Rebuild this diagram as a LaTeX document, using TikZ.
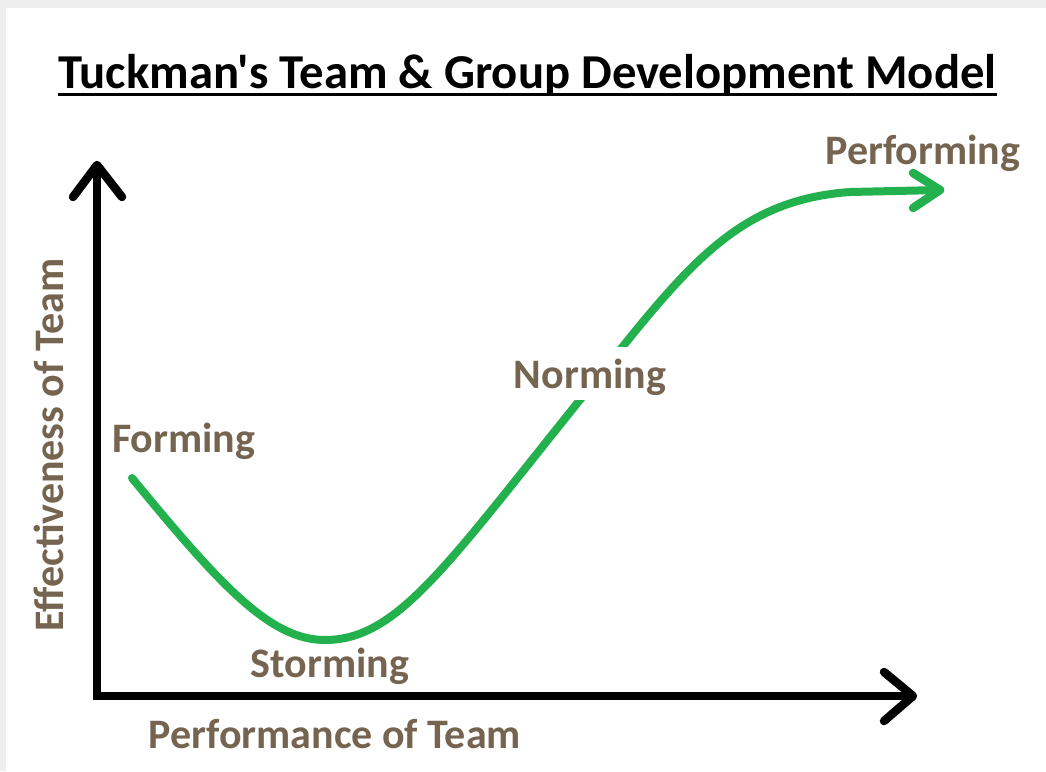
\documentclass[tikz,border=0pt]{standalone}
\usepackage{fontspec}
\setmainfont{Carlito}
\newfontfamily\plaincarlito{Carlito}
\definecolor{labelbrown}{RGB}{117,100,80}
\definecolor{curvegreen}{RGB}{34,177,76}
\definecolor{framegray}{RGB}{238,238,238}
\begin{document}
\begin{tikzpicture}[x=1pt,y=-1pt,
  axisline/.style={line width=8.5pt, black},
  chevron/.style={line width=8.5pt, line cap=round, line join=round},
  stagelabel/.style={font=\fontsize{42}{44}\selectfont\bfseries, text=labelbrown, inner sep=0pt},
  titlestyle/.style={font=\plaincarlito\fontsize{48.7}{50}\selectfont\bfseries, text=black, inner sep=0pt}]
\useasboundingbox (0,0) rectangle (1046,771);
\fill[framegray] (0,0) rectangle (1046,771);
\fill[white] (6,8) rectangle (1046,771);
% title
\node[titlestyle, anchor=base] (title) at (527.5,88) {Tuckman's Team \& Group Development Model};
\draw[line width=3pt] ([yshift=-6pt]title.base west) -- ([yshift=-6pt]title.base east);
% axes
\coordinate (ytip) at (97,165);
\coordinate (origin) at (97,696);
\coordinate (xtip) at (913,696);
\draw[axisline] (ytip) -- (origin) -- ([xshift=-4pt]origin) (origin) -- (xtip);
\draw[chevron] (73,197) -- (ytip) -- (122,197);
\draw[chevron] (884,672) -- (xtip) -- (884,721);
% curve
\coordinate (start) at (132,478);
\coordinate (low) at (325,640);
\coordinate (mid) at (600,375);
\coordinate (flat) at (850,192);
\coordinate (ctip) at (940,190);
\draw[curvegreen, line width=8pt, line cap=round, line join=round]
  (start) .. controls (220,585) and (270,640) .. (low)
  .. controls (400,640) and (450,560) .. (mid)
  .. controls (690,262) and (740,200) .. (flat) -- (ctip);
\draw[chevron, curvegreen] (913,173) -- (ctip) -- (913,208);
% labels
\node[stagelabel, anchor=base west] (forming) at (112,452) {Forming};
\node[stagelabel, anchor=base] (storming) at (330,677) {Storming};
\node[stagelabel, anchor=base, fill=white, inner xsep=3pt, text height=41pt, text depth=12pt] (norming) at (590,388) {Norming};
\node[stagelabel, anchor=base] (performing) at (923,164) {Performing};
\node[stagelabel, anchor=base] (xlabel) at (335,748) {Performance of Team};
\node[stagelabel, anchor=base, rotate=90] (ylabel) at (63,445) {Effectiveness of Team};
\end{tikzpicture}
\end{document}
